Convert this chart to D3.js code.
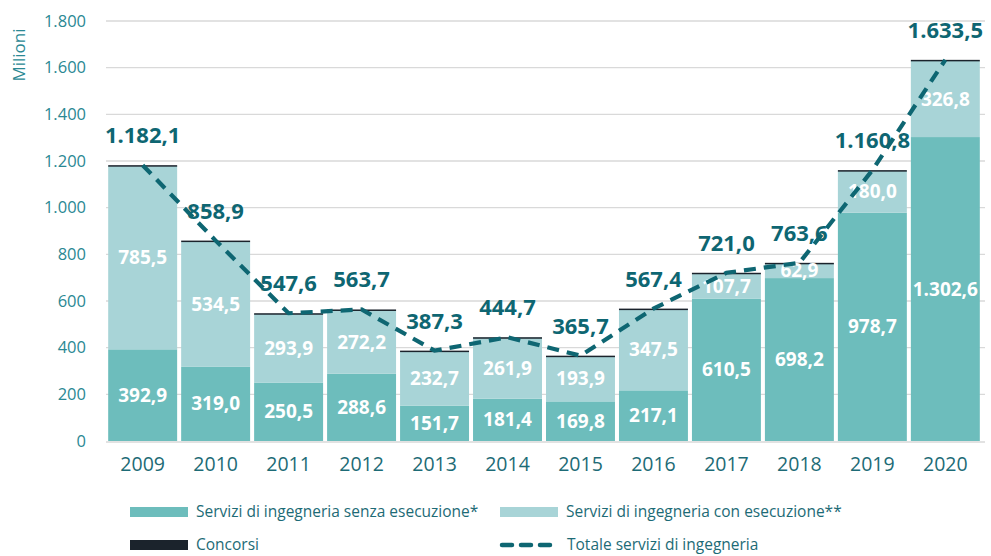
<!DOCTYPE html>
<html>
<head>
<meta charset="utf-8">
<script src="https://cdn.jsdelivr.net/npm/d3@7"></script>
<style>
  body { margin: 0; background: #fff; }
  svg { font-family: "Open Sans", sans-serif; }
</style>
</head>
<body>
<svg id="svg"></svg>
<script>
// values in millions
const years = ["2009","2010","2011","2012","2013","2014","2015","2016","2017","2018","2019","2020"];
const senza = [392.9, 319.0, 250.5, 288.6, 151.7, 181.4, 169.8, 217.1, 610.5, 698.2, 978.7, 1302.6];
const con = [785.5, 534.5, 293.9, 272.2, 232.7, 261.9, 193.9, 347.5, 107.7, 62.9, 180.0, 326.8];
const concorsi = [3.7, 5.4, 3.2, 2.9, 2.9, 1.4, 2.0, 2.8, 2.8, 2.5, 2.1, 4.1];
const totale = [1182.1, 858.9, 547.6, 563.7, 387.3, 444.7, 365.7, 567.4, 721.0, 763.6, 1160.8, 1633.5];
const yTicks = [0, 200, 400, 600, 800, 1000, 1200, 1400, 1600, 1800];

const seriesNames = ["Servizi di ingegneria senza esecuzione*", "Servizi di ingegneria con esecuzione**", "Concorsi"];
const colors = ["#6dbdbc", "#a8d4d7", "#1b232c"];
const lineColor = "#0e6672";

let width = 991,
	height = 556,
	m = [21, 6, 115, 106];

const fmt = v => {
	let s = v.toFixed(1).replace(".", ",");
	let parts = s.split(",");
	parts[0] = parts[0].replace(/\B(?=(\d{3})+(?!\d))/g, ".");
	return parts.join(",");
};

const data = years.map((y, i) => ({ year: y, senza: senza[i], con: con[i], concorsi: concorsi[i], total: totale[i] }));
const stack = d3.stack().keys(["senza", "con", "concorsi"])(data);

const svg = d3.select("svg#svg")
	.attr("width", width)
	.attr("height", height);

const xScale = d3.scaleBand()
	.domain(years)
	.range([m[3], width - m[1] - 3])
	.paddingInner(0.055)
	.paddingOuter(0.03);

const yScale = d3.scaleLinear()
	.domain([0, 1800])
	.range([height - m[2], m[0]]);

// grid
svg.append("g")
	.selectAll("line")
	.data(yTicks.slice(1))
	.enter()
	.append("line")
	.attr("x1", m[3])
	.attr("x2", width - m[1])
	.attr("y1", d => yScale(d))
	.attr("y2", d => yScale(d))
	.attr("stroke", "#d9d9d9")
	.attr("stroke-width", 1.3);

// y labels
const yAxis = d3.axisLeft(yScale)
	.tickValues(yTicks)
	.tickFormat(d => d3.format(",")(d).replace(/,/g, "."))
	.tickSize(0)
	.tickPadding(20);
const yG = svg.append("g")
	.attr("transform", `translate(${m[3]},0)`)
	.call(yAxis);
yG.select(".domain").remove();
yG.selectAll("text")
	.attr("fill", "#2a8893")
	.attr("font-size", 16.5)
	.attr("font-family", "Open Sans");

svg.append("text")
	.text("Milioni")
	.attr("text-anchor", "middle")
	.attr("transform", "rotate(-90)")
	.attr("x", -55)
	.attr("y", 25)
	.attr("fill", "#2a8893")
	.attr("font-size", 17);

// bars
const colorOf = { senza: colors[0], con: colors[1], concorsi: colors[2] };
stack.forEach(s => {
	svg.append("g")
		.selectAll("rect")
		.data(s)
		.enter()
		.append("rect")
		.attr("x", d => xScale(d.data.year))
		.attr("width", xScale.bandwidth())
		.attr("y", d => yScale(d[1]))
		.attr("height", d => Math.max(yScale(d[0]) - yScale(d[1]), s.key === "concorsi" ? 1.5 : 0))
		.attr("fill", colorOf[s.key]);
});

// baseline
svg.append("line")
	.attr("x1", m[3])
	.attr("x2", width - m[1])
	.attr("y1", yScale(0) + 1)
	.attr("y2", yScale(0) + 1)
	.attr("stroke", "#d9d9d9")
	.attr("stroke-width", 1.5);

// x labels
const xAxis = d3.axisBottom(xScale).tickSize(0).tickPadding(16);
const xG = svg.append("g")
	.attr("transform", `translate(0,${yScale(0)})`)
	.call(xAxis);
xG.select(".domain").remove();
xG.selectAll("text")
	.attr("fill", "#1d6b76")
	.attr("font-size", 19.5)
	.attr("font-family", "Open Sans");

// value labels inside bars
const cx = d => xScale(d.data.year) + xScale.bandwidth() / 2;
[stack[0], stack[1]].forEach(s => {
	svg.append("g")
		.selectAll("text")
		.data(s)
		.enter()
		.append("text")
		.attr("x", cx)
		.attr("y", d => (yScale(d[0]) + yScale(d[1])) / 2)
		.attr("dy", "0.35em")
		.attr("text-anchor", "middle")
		.attr("fill", "#fff")
		.attr("font-weight", "bold")
		.attr("font-size", 19)
		.text(d => fmt(d[1] - d[0]));
});

// total line
const line = d3.line()
	.x(d => xScale(d.year) + xScale.bandwidth() / 2)
	.y(d => yScale(d.total));
svg.append("path")
	.datum(data)
	.attr("d", line)
	.attr("fill", "none")
	.attr("stroke", lineColor)
	.attr("stroke-width", 4.2)
	.attr("stroke-dasharray", "12,8");

svg.append("g")
	.selectAll("text")
	.data(data)
	.enter()
	.append("text")
	.attr("x", d => xScale(d.year) + xScale.bandwidth() / 2)
	.attr("y", d => yScale(d.total) - 22)
	.attr("text-anchor", "middle")
	.attr("fill", lineColor)
	.attr("font-weight", "bold")
	.attr("font-size", 22)
	.text(d => fmt(d.total));

// legend
const legend = [
	{ label: seriesNames[0], color: colors[0], x: 130, y: 512, type: "rect" },
	{ label: seriesNames[1], color: colors[1], x: 500, y: 512, type: "rect" },
	{ label: seriesNames[2], color: colors[2], x: 130, y: 545, type: "rect" },
	{ label: "Totale servizi di ingegneria", color: lineColor, x: 500, y: 545, type: "line" }
];
const lg = svg.append("g")
	.selectAll("g")
	.data(legend)
	.enter()
	.append("g")
	.attr("transform", d => `translate(${d.x},${d.y})`);
lg.filter(d => d.type === "rect")
	.append("rect")
	.attr("x", 0)
	.attr("y", -5)
	.attr("width", 58)
	.attr("height", 10)
	.attr("fill", d => d.color);
lg.filter(d => d.type === "line")
	.append("line")
	.attr("x1", 2)
	.attr("x2", 57)
	.attr("y1", 0)
	.attr("y2", 0)
	.attr("stroke", d => d.color)
	.attr("stroke-width", 4.5)
	.attr("stroke-linecap", "round")
	.attr("stroke-dasharray", "10,9");
lg.append("text")
	.attr("x", d => d.type === "line" ? 67 : 66)
	.attr("y", 0)
	.attr("dy", "0.33em")
	.attr("fill", "#1d6b76")
	.attr("font-size", 15.5)
	.attr("font-family", "Liberation Sans Narrow, Open Sans")
	.text(d => d.label);
</script>
</body>
</html>
